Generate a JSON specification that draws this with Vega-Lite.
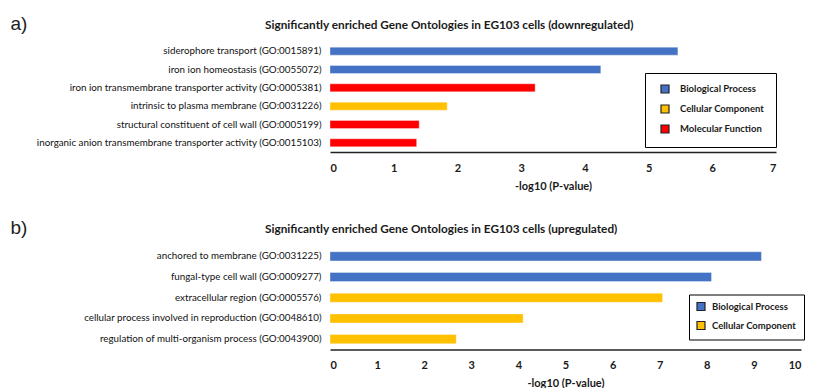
{
  "$schema": "https://vega.github.io/schema/vega-lite/v6.json",
  "padding": {"left": 10, "top": 14, "right": 3, "bottom": 0},
  "background": "white",
  "bounds": "flush",
  "spacing": 94,
  "config": {
    "view": {"stroke": null},
    "font": "Lato",
    "axis": {"grid": false, "ticks": false},
    "legend": {"orient": "none", "title": null, "strokeColor": "#000", "fillColor": "#fff", "symbolType": "square", "symbolSize": 64, "symbolStrokeColor": "#222", "symbolStrokeWidth": 1.2, "labelFontSize": 9.5, "labelFontWeight": "bold", "labelColor": "#1a1a1a", "labelFont": "Lato"}
  },
  "resolve": {"scale": {"color": "independent", "y": "independent", "x": "independent"}, "legend": {"color": "independent"}},
  "vconcat": [
    {
      "width": 446,
      "height": 110,
      "title": {"text": "Significantly enriched Gene Ontologies in EG103 cells (downregulated)", "anchor": "start", "frame": "group", "dx": -65, "dy": 18, "fontSize": 11.8, "fontWeight": "bold", "font": "Lato", "color": "#1a1a1a", "offset": 0},
      "data": {"values": [
        {"term": "siderophore transport (GO:0015891)", "value": 5.46, "category": "Biological Process"},
        {"term": "iron ion homeostasis (GO:0055072)", "value": 4.25, "category": "Biological Process"},
        {"term": "iron ion transmembrane transporter activity (GO:0005381)", "value": 3.22, "category": "Molecular Function"},
        {"term": "intrinsic to plasma membrane (GO:0031226)", "value": 1.84, "category": "Cellular Component"},
        {"term": "structural constituent of cell wall (GO:0005199)", "value": 1.40, "category": "Molecular Function"},
        {"term": "inorganic anion transmembrane transporter activity (GO:0015103)", "value": 1.36, "category": "Molecular Function"}
      ]},
      "mark": {"type": "bar", "stroke": "#ffffff", "strokeOpacity": 0.6, "strokeWidth": 0.6},
      "encoding": {
        "y": {"field": "term", "type": "nominal", "sort": null,
          "scale": {"paddingInner": 0.56, "paddingOuter": 0.28},
          "axis": {"title": "a)", "titleAngle": 0, "titleX": -320, "titleY": -19, "titleAlign": "left", "titleBaseline": "middle", "titleFont": "Liberation Sans", "titleFontSize": 19, "titleFontWeight": "normal", "titleColor": "#222",
            "domain": false, "labelFontSize": 9.8, "labelPadding": 9, "labelLimit": 400, "labelColor": "#111", "labelFont": "Lato"}},
        "x": {"field": "value", "type": "quantitative",
          "scale": {"domain": [0, 7], "nice": false},
          "axis": {"values": [0, 1, 2, 3, 4, 5, 6, 7], "title": "-log10 (P-value)", "domainColor": "#222", "domainWidth": 1.5, "labelFontWeight": "bold", "labelFontSize": 11, "labelPadding": 10, "labelColor": "#1a1a1a", "titleFontSize": 11, "titleFontWeight": "bold", "titleColor": "#1a1a1a", "titlePadding": 7}},
        "color": {"field": "category", "type": "nominal",
          "scale": {"domain": ["Biological Process", "Cellular Component", "Molecular Function"], "range": ["#4472C4", "#FFC000", "#FF0000"]},
          "legend": {"legendX": 315, "legendY": 31, "padding": 11, "rowPadding": 6, "symbolOffset": 4, "labelOffset": 10}}
      }
    },
    {
      "width": 471,
      "height": 103.5,
      "title": {"text": "Significantly enriched Gene Ontologies in EG103 cells (upregulated)", "anchor": "start", "frame": "group", "dx": -65, "dy": 18, "fontSize": 11.8, "fontWeight": "bold", "font": "Lato", "color": "#1a1a1a", "offset": 0},
      "data": {"values": [
        {"term": "anchored to membrane (GO:0031225)", "value": 9.16, "category": "Biological Process"},
        {"term": "fungal-type cell wall (GO:0009277)", "value": 8.10, "category": "Biological Process"},
        {"term": "extracellular region (GO:0005576)", "value": 7.06, "category": "Cellular Component"},
        {"term": "cellular process involved in reproduction (GO:0048610)", "value": 4.10, "category": "Cellular Component"},
        {"term": "regulation of multi-organism process (GO:0043900)", "value": 2.68, "category": "Cellular Component"}
      ]},
      "mark": {"type": "bar", "stroke": "#ffffff", "strokeOpacity": 0.6, "strokeWidth": 0.6},
      "encoding": {
        "y": {"field": "term", "type": "nominal", "sort": null,
          "scale": {"paddingInner": 0.56, "paddingOuter": 0.28},
          "axis": {"title": "b)", "titleAngle": 0, "titleX": -320, "titleY": -19, "titleAlign": "left", "titleBaseline": "middle", "titleFont": "Liberation Sans", "titleFontSize": 19, "titleFontWeight": "normal", "titleColor": "#222",
            "domain": false, "labelFontSize": 9.8, "labelPadding": 9, "labelLimit": 400, "labelColor": "#111", "labelFont": "Lato"}},
        "x": {"field": "value", "type": "quantitative",
          "scale": {"domain": [0, 10], "nice": false},
          "axis": {"values": [0, 1, 2, 3, 4, 5, 6, 7, 8, 9, 10], "title": "-log10 (P-value)", "domainColor": "#222", "domainWidth": 1.5, "labelFontWeight": "bold", "labelFontSize": 11, "labelPadding": 10, "labelColor": "#1a1a1a", "titleFontSize": 11, "titleFontWeight": "bold", "titleColor": "#1a1a1a", "titlePadding": 7}},
        "color": {"field": "category", "type": "nominal",
          "scale": {"domain": ["Biological Process", "Cellular Component"], "range": ["#4472C4", "#FFC000"]},
          "legend": {"legendX": 359, "legendY": 48.5, "padding": 7, "rowPadding": 5, "symbolOffset": 0, "labelOffset": 6}}
      }
    }
  ]
}
